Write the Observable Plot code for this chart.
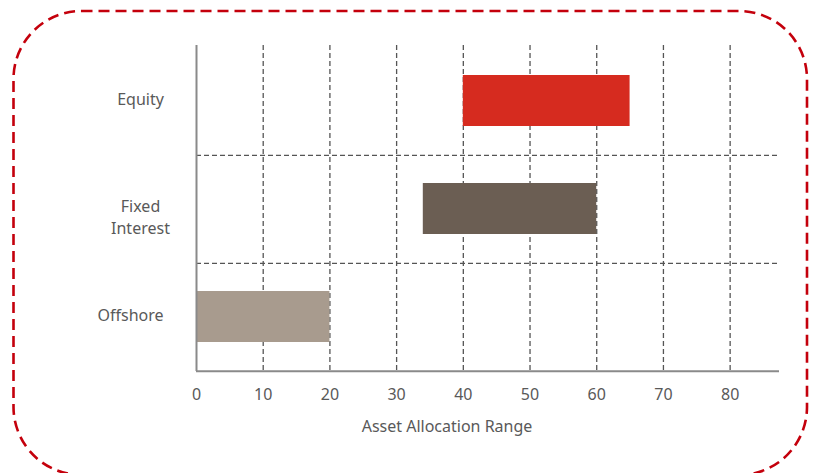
<!DOCTYPE html>
<html>
<head>
<meta charset="utf-8">
<script src="https://cdn.jsdelivr.net/npm/d3@7"></script>
<script src="https://cdn.jsdelivr.net/npm/@observablehq/plot@0.6"></script>
<style>
  html, body { margin: 0; padding: 0; background: #fff; }
  #wrap { position: relative; width: 837px; height: 473px; overflow: hidden; }
  #wrap > svg { position: absolute; left: 0; top: 0; }
  #border { pointer-events: none; }
</style>
</head>
<body>
<div id="wrap"></div>
<script>
// Allocation ranges per asset class (percent)
const categories = ["Equity", "Fixed Interest", "Offshore"];
const rangeLow = [40, 34, 0];
const rangeHigh = [65, 60, 20];
const barColors = ["#d62b1f", "#6b5e53", "#a89b8e"];
const categoryLabels = ["Equity", "Fixed\nInterest", "Offshore"];
const xTicks = [0, 10, 20, 30, 40, 50, 60, 70, 80];
const xTitle = "Asset Allocation Range";

const rows = categories.map((c, i) => ({category: c, low: rangeLow[i], high: rangeHigh[i]}));

const W = 837, H = 473;
const mTop = 45, mBottom = 102, mLeft = 196, mRight = 58;
const xMax = 87.4;
const step = (H - mTop - mBottom) / categories.length;
const labelOf = new Map(categories.map((c, i) => [c, categoryLabels[i]]));

const grey = "#595959";
const font = "'Noto Sans', 'Open Sans', sans-serif";
const fs = 16;

// category label placement (padding from the axis, vertical nudge)
const yLabelStyle = [
  {padding: 56, dy: -3},
  {padding: 56, dy: 7},
  {padding: 66, dy: -3}
];

const chart = Plot.plot({
  width: W,
  height: H,
  marginTop: mTop,
  marginBottom: mBottom,
  marginLeft: mLeft,
  marginRight: mRight,
  style: {fontFamily: font, fontSize: fs + "px", color: grey, background: "transparent"},
  x: {domain: [0, xMax]},
  y: {domain: categories, paddingInner: 0.53, paddingOuter: 0.265},
  color: {domain: categories, range: barColors},
  marks: [
    // vertical dashed gridlines
    Plot.ruleX(xTicks.filter(d => d > 0), {stroke: "#555", strokeWidth: 1.3, strokeDasharray: "5,3"}),
    // horizontal dashed separators between categories
    Plot.ruleY(categories.slice(0, -1), {dy: step / 2, x1: 0, x2: xMax, stroke: "#555", strokeWidth: 1.3, strokeDasharray: "5,3"}),
    // range bars
    Plot.barX(rows, {y: "category", x1: "low", x2: "high", fill: "category"}),
    // axis lines
    Plot.ruleX([0], {stroke: "#8a8a8a", strokeWidth: 2}),
    Plot.ruleY(categories.slice(-1), {dy: step / 2, x1: 0, x2: xMax, stroke: "#8a8a8a", strokeWidth: 2}),
    Plot.axisX({ticks: xTicks, tickSize: 0, tickPadding: 17, label: null, fill: grey, fontSize: fs}),
    ...categories.map((c, i) => Plot.axisY({
      ticks: [c], tickSize: 0, tickPadding: yLabelStyle[i].padding, dy: yLabelStyle[i].dy,
      textAnchor: "middle", lineHeight: 1.35, label: null,
      tickFormat: d => labelOf.get(d), fill: grey, fontSize: fs
    })),
    Plot.text([xTitle], {frameAnchor: "bottom", dx: -41, dy: 60, fill: grey, fontSize: fs})
  ]
});

const wrap = document.getElementById("wrap");
wrap.appendChild(chart);

// rounded dashed frame around the chart
const ns = "http://www.w3.org/2000/svg";
const border = document.createElementNS(ns, "svg");
border.setAttribute("id", "border");
border.setAttribute("width", W);
border.setAttribute("height", H);
const rect = document.createElementNS(ns, "rect");
rect.setAttribute("x", 13.5);
rect.setAttribute("y", 11);
rect.setAttribute("width", 793.5);
rect.setAttribute("height", 464);
rect.setAttribute("rx", 68);
rect.setAttribute("fill", "none");
rect.setAttribute("stroke", "#c4000c");
rect.setAttribute("stroke-width", 2.6);
rect.setAttribute("stroke-dasharray", "11,6");
border.appendChild(rect);
wrap.appendChild(border);
</script>
</body>
</html>
